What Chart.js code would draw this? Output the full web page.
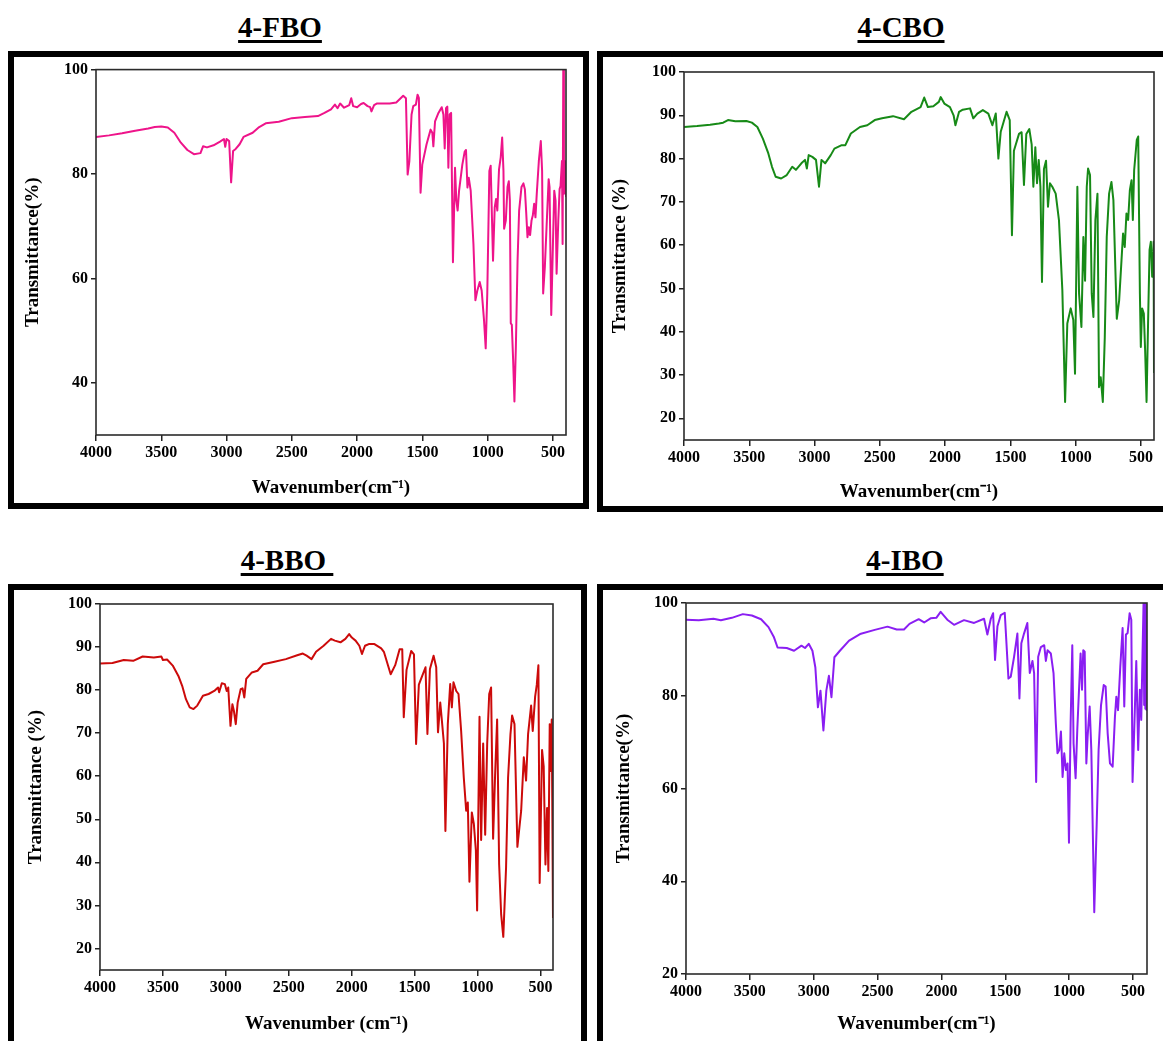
<!DOCTYPE html>
<html>
<head>
<meta charset="utf-8">
<script src="https://cdn.jsdelivr.net/npm/chart.js@4.4.1/dist/chart.umd.min.js"></script>
<style>
  html, body { margin: 0; padding: 0; background: #fff; }
  body { width: 1163px; height: 1041px; position: relative; overflow: hidden; }
  .frame { position: absolute; border: 6px solid #000; box-sizing: border-box; pointer-events: none; }
  .title {
    position: absolute; transform: translateX(-50%); white-space: pre;
    font: bold 29px/29px 'Liberation Serif', 'Times New Roman', serif; color: #000;
    text-decoration: underline; text-decoration-thickness: 3px; text-underline-offset: 3px;
  }
  canvas { position: absolute; }
</style>
</head>
<body>

<div class="title" style="left:280px; top:13px">4-FBO</div>
<div class="title" style="left:901px; top:13px">4-CBO</div>
<div class="title" style="left:287px; top:546px">4-BBO </div>
<div class="title" style="left:905px; top:546px">4-IBO</div>

<canvas id="fbo" width="569" height="446" style="left:14px; top:57px"></canvas>
<canvas id="cbo" width="560" height="449" style="left:603px; top:57px"></canvas>
<canvas id="bbo" width="567" height="451" style="left:14px; top:590px"></canvas>
<canvas id="ibo" width="560" height="451" style="left:603px; top:590px"></canvas>

<div class="frame" style="left:8px; top:51px; width:581px; height:458px"></div>
<div class="frame" style="left:597px; top:51px; width:600px; height:461px"></div>
<div class="frame" style="left:8px; top:584px; width:579px; height:600px"></div>
<div class="frame" style="left:597px; top:584px; width:600px; height:600px"></div>

<script>
const xTicks = [4000, 3500, 3000, 2500, 2000, 1500, 1000, 500];

// 4-FBO
const fboWn = [4000,3900,3800,3700,3600,3550,3500,3450,3400,3350,3300,3250,3200,3180,3150,3100,3050,3020,3010,3000,
  2980,2965,2950,2930,2900,2870,2800,2750,2700,2600,2500,2400,2300,2250,2200,2170,2150,2130,2100,2060,
  2045,2030,2000,1970,1950,1920,1900,1890,1870,1850,1750,1700,1647,1626,1613,1600,1583,1570,1550,1537,
  1527,1514,1501,1468,1437,1424,1416,1403,1377,1352,1339,1329,1319,1309,1301,1291,1280,1266,1250,1240,
  1230,1219,1194,1176,1166,1155,1145,1130,1109,1094,1079,1061,1046,1028,1015,1003,987,977,966,959,
  946,936,926,913,900,889,879,874,861,848,838,830,823,815,805,795,784,771,759,741,
  726,715,705,695,685,675,664,654,644,634,624,608,593,583,575,562,549,533,526,513,
  500,490,480,472,459,449,442,431,426,421,416,408,400];
const fboT = [87.1,87.4,87.8,88.3,88.7,89.0,89.1,88.9,87.9,86.0,84.6,83.8,84.0,85.3,85.1,85.5,86.2,86.7,85.2,86.7,
  86.3,78.4,84.4,84.8,85.7,87.1,87.9,89.0,89.7,90.0,90.7,90.9,91.1,91.7,92.4,93.3,92.6,93.5,92.7,93.2,
  94.5,93.0,92.8,93.4,93.6,93.0,92.8,92.0,93.2,93.5,93.5,93.7,95.0,94.5,79.9,82.4,91.4,93.0,93.3,95.2,
  94.6,76.4,81.8,85.7,88.5,87.9,85.3,90.1,91.7,92.8,91.4,84.9,92.6,92.9,81.2,91.4,91.7,63.1,81.2,74.9,
  73.0,76.8,81.8,84.3,84.6,77.4,79.3,76.8,66.6,55.8,57.7,59.3,57.7,52.0,46.6,57.1,80.6,81.6,70.5,63.4,
  73.6,75.2,73.0,80.9,83.2,87.0,80.6,69.5,71.1,77.5,78.6,74.9,51.4,51.1,44.4,36.4,46.9,63.4,73.0,77.5,
  78.2,77.1,72.7,67.9,69.8,68.3,71.1,72.1,74.3,71.7,76.2,82.5,86.3,80.6,57.1,62.2,69.8,79.0,77.5,53.0,
  66.6,76.8,74.9,60.9,71.1,77.1,77.7,82.5,66.6,100,76.2,82.5,75.6];

// 4-CBO
const cboWn = [4000,3900,3800,3733,3700,3663,3607,3522,3480,3438,3396,3354,3326,3298,3256,3213,3171,3143,3101,3073,
  3059,3045,3017,2989,2966,2947,2919,2876,2848,2792,2764,2722,2652,2596,2539,2483,2399,2315,2258,2188,
  2160,2132,2090,2048,2034,2006,1963,1935,1921,1893,1865,1809,1784,1753,1711,1669,1638,1612,1592,1574,
  1529,1505,1488,1473,1434,1414,1396,1378,1355,1337,1324,1309,1296,1283,1270,1258,1243,1227,1212,1197,
  1179,1153,1128,1102,1081,1064,1038,1018,1005,987,974,956,941,928,915,905,890,877,864,849,
  833,821,808,792,777,762,744,726,711,685,667,649,637,624,611,598,585,572,562,552,
  532,521,508,501,491,478,468,457,445,434,424,414,403,400];
const cboT = [87.3,87.5,87.8,88.1,88.3,88.9,88.6,88.7,88.3,87.3,84.6,81.2,78.1,75.8,75.4,76.2,78.1,77.4,78.9,79.7,
  77.7,80.8,80.4,79.7,73.5,79.7,78.9,80.8,82.3,83.1,83.1,85.8,87.3,87.7,88.9,89.3,89.8,89.1,90.8,91.9,
  94.1,91.9,92.1,93.1,94.2,92.7,91.9,90.0,87.7,90.8,91.3,91.6,89.3,90.4,91.2,90.4,87.7,90.4,80.0,86.2,
  90.8,88.9,62.3,81.8,85.7,86.1,73.9,85.7,86.8,83.3,73.5,82.6,74.3,79.7,73.5,51.5,77.6,79.5,68.9,74.3,
  73.5,71.9,65.8,49.6,23.8,41.9,45.4,42.7,30.3,73.5,48.8,41.1,61.9,51.8,73.5,77.7,76.2,48.8,43.4,65.8,
  71.9,27.2,29.5,23.8,38.7,61.9,71.9,74.6,70.4,43.0,47.2,56.5,62.7,59.6,67.3,65.8,72.7,75.0,65.8,77.3,
  84.3,85.1,48.8,36.5,45.4,44.2,35.8,23.8,42.7,58.9,60.8,52.7,60.8,30.5];

// 4-BBO
const bboWn = [4000,3901,3811,3736,3661,3572,3512,3500,3467,3422,3377,3347,3317,3287,3257,3227,3182,3137,3092,3062,
  3053,3032,3008,2993,2981,2963,2948,2936,2921,2906,2882,2867,2853,2838,2793,2748,2703,2613,2523,2433,
  2388,2358,2319,2283,2223,2164,2134,2089,2050,2020,1999,1969,1939,1918,1894,1864,1819,1765,1744,1690,
  1654,1619,1598,1586,1564,1527,1505,1488,1466,1434,1413,1398,1378,1349,1328,1314,1296,1283,1267,1255,
  1236,1217,1204,1191,1169,1151,1130,1109,1090,1077,1064,1045,1029,1013,1003,984,971,955,939,923,
  907,892,876,860,844,828,812,795,773,757,738,725,706,683,653,632,614,598,574,561,
  542,529,516,506,487,474,460,447,437,426,418,410,400];
const bboT = [86.2,86.3,87.0,86.8,87.8,87.6,87.8,87.0,87.1,85.7,83.3,81.0,77.9,76.0,75.6,76.4,78.7,79.1,79.8,80.6,
  79.5,81.6,81.4,79.8,80.6,71.7,76.7,75.2,72.1,77.1,80.2,80.4,78.3,82.6,84.1,84.5,86.0,86.6,87.2,88.1,
  88.5,88.0,87.2,88.9,90.3,91.9,91.5,91.1,91.9,93.0,92.2,91.5,90.3,88.4,90.3,90.7,90.7,89.7,88.9,83.7,
  85.8,89.5,89.5,73.7,84.7,89.1,88.3,67.5,81.3,83.7,85.3,69.8,84.9,88.0,85.3,70.2,77.1,72.9,67.6,47.3,
  72.1,81.4,76.0,81.8,79.8,79.1,70.5,59.7,52.0,53.9,35.5,51.6,48.9,42.8,28.8,73.8,45.2,67.6,46.4,67.6,
  79.1,80.6,45.5,60.4,73.2,39.5,27.9,22.7,38.8,59.7,69.8,74.1,72.1,43.6,52.0,64.4,59.0,69.8,76.4,70.5,
  78.5,81.2,85.8,35.2,66.1,62.3,39.5,52.6,38.0,72.1,61.2,73.2,27.1];

// 4-IBO
const iboWn = [4000,3900,3785,3727,3641,3555,3484,3412,3354,3311,3283,3211,3154,3096,3068,3039,3010,2987,2967,2947,
  2924,2901,2881,2861,2838,2795,2723,2637,2522,2422,2350,2293,2250,2178,2135,2085,2040,2006,1954,1901,
  1823,1744,1666,1640,1614,1595,1580,1561,1535,1504,1475,1457,1431,1405,1389,1374,1353,1327,1308,1287,
  1274,1258,1242,1221,1195,1182,1169,1143,1122,1104,1091,1077,1064,1051,1038,1025,1012,1001,988,975,
  965,949,936,923,910,899,889,878,865,855,839,826,803,784,769,750,729,714,698,680,
  659,641,630,617,599,581,568,555,542,526,513,503,490,474,459,446,435,425,417,412,
  408,403,399,394,390];
const iboT = [96.4,96.3,96.6,96.3,96.8,97.6,97.3,96.5,94.8,92.6,90.4,90.3,89.7,90.8,90.3,91.2,89.7,86.1,77.5,81.1,
  72.5,81.1,84.3,79.7,88.3,89.7,91.9,93.3,94.2,94.9,94.3,94.3,95.5,96.5,95.8,96.7,96.8,98.1,96.4,95.3,
  96.3,95.7,96.6,93.2,96.5,97.8,87.7,95.0,97.4,97.9,83.7,84.1,88.4,93.4,79.4,91.3,93.4,95.7,84.9,87.5,
  84.9,61.4,88.4,90.5,90.9,87.5,89.8,89.1,84.9,74.1,67.6,68.3,72.3,62.5,67.6,64.0,65.4,48.3,74.1,90.9,
  69.7,62.2,72.6,80.9,89.1,81.3,89.8,89.5,65.4,71.2,77.7,68.3,33.3,52.3,68.3,78.0,82.3,82.0,71.9,65.4,
  64.7,75.5,79.8,76.9,86.3,94.6,77.7,93.2,93.5,97.8,96.4,61.4,72.6,87.5,68.3,81.3,74.8,89.1,100,78.0,
  100,77.2,100,77.0,76.8];

const SERIF = "'Liberation Serif', 'Times New Roman', serif";

// thin box around the plotting area
const plotFrame = {
  id: 'plotFrame',
  afterDatasetsDraw(chart) {
    const { ctx, chartArea: a } = chart;
    ctx.save();
    ctx.strokeStyle = '#2b2b2b';
    ctx.lineWidth = 1.6;
    ctx.strokeRect(a.left, a.top, a.right - a.left, a.bottom - a.top);
    ctx.restore();
  }
};

function spectrum(id, s) {
  const points = s.wn.map((w, i) => ({ x: w, y: s.t[i] }));
  const tickFont = { family: SERIF, size: 16, weight: 'bold' };
  const titleFont = { family: SERIF, size: 19, weight: 'bold', lineHeight: 1 };
  new Chart(document.getElementById(id), {
    type: 'line',
    data: {
      datasets: [{
        data: points,
        borderColor: s.color,
        borderWidth: 2,
        pointRadius: 0,
        tension: 0,
        borderJoinStyle: 'round'
      }]
    },
    options: {
      animation: false,
      responsive: false,
      events: [],
      layout: { padding: { top: s.padTop, right: s.padRight, left: 0, bottom: 0 } },
      plugins: { legend: { display: false }, tooltip: { enabled: false } },
      scales: {
        x: {
          type: 'linear',
          reverse: true,
          min: s.xMin,
          max: 4000,
          afterFit: sc => { sc.height = s.xAxisH; },
          afterBuildTicks: sc => { sc.ticks = xTicks.map(v => ({ value: v })); },
          border: { display: false },
          grid: { drawOnChartArea: false, drawTicks: true, tickLength: 6, color: '#222', lineWidth: 1.5 },
          ticks: { autoSkip: false, maxRotation: 0, padding: 2, color: '#000', font: tickFont, callback: v => String(v) },
          title: { display: true, text: s.xTitle, color: '#000', font: titleFont, padding: { top: 0, bottom: s.xTitlePad } }
        },
        y: {
          min: s.yMin,
          max: 100,
          afterFit: sc => { sc.width = s.yAxisW; },
          afterBuildTicks: sc => { sc.ticks = s.yTicks.map(v => ({ value: v })); },
          border: { display: false },
          grid: { drawOnChartArea: false, drawTicks: true, tickLength: 5, color: '#222', lineWidth: 1.5 },
          ticks: { padding: 3, color: '#000', font: tickFont, callback: v => String(v) },
          title: { display: true, text: s.yTitle, color: '#000', font: titleFont, padding: { top: s.yTitlePad, bottom: 0 } }
        }
      }
    },
    plugins: [plotFrame]
  });
}

spectrum('fbo', {
  wn: fboWn, t: fboT, color: '#ee148a',
  xMin: 400, yMin: 30, yTicks: [40, 60, 80, 100],
  padTop: 11, padRight: 17, yAxisW: 82, xAxisH: 68, yTitlePad: 9.5, xTitlePad: 5.5,
  xTitle: 'Wavenumber(cm⁻¹)', yTitle: 'Transmittance(%)'
});

spectrum('cbo', {
  wn: cboWn, t: cboT, color: '#178a17',
  xMin: 400, yMin: 15, yTicks: [20, 30, 40, 50, 60, 70, 80, 90, 100],
  padTop: 15, padRight: 9, yAxisW: 81, xAxisH: 66, yTitlePad: 7.5, xTitlePad: 4.5,
  xTitle: 'Wavenumber(cm⁻¹)', yTitle: 'Transmittance (%)'
});

spectrum('bbo', {
  wn: bboWn, t: bboT, color: '#cc0a0a',
  xMin: 400, yMin: 15, yTicks: [20, 30, 40, 50, 60, 70, 80, 90, 100],
  padTop: 14, padRight: 28, yAxisW: 86, xAxisH: 71, yTitlePad: 12.5, xTitlePad: 7.5,
  xTitle: 'Wavenumber (cm⁻¹)', yTitle: 'Transmittance (%)'
});

spectrum('ibo', {
  wn: iboWn, t: iboT, color: '#8a1ef2',
  xMin: 390, yMin: 20, yTicks: [20, 40, 60, 80, 100],
  padTop: 13, padRight: 16, yAxisW: 83, xAxisH: 67, yTitlePad: 11.5, xTitlePad: 7.5,
  xTitle: 'Wavenumber(cm⁻¹)', yTitle: 'Transmittance(%)'
});
</script>
</body>
</html>
